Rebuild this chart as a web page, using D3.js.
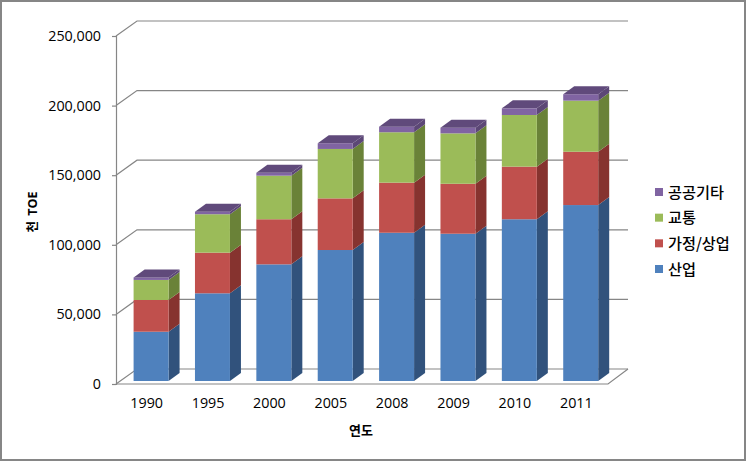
<!DOCTYPE html>
<html><head><meta charset="utf-8">
<script src="https://cdnjs.cloudflare.com/ajax/libs/d3/7.8.5/d3.min.js"></script>
<style>html,body{margin:0;padding:0;background:#fff}svg{display:block}
text{font-family:"Open Sans","Noto Sans CJK KR",sans-serif;fill:#000}</style></head><body>
<svg id="c" width="746" height="461"></svg>
<script>
const years = ["1990","1995","2000","2005","2008","2009","2010","2011"];
const industry = [35400,63000,83800,94100,106500,105800,116200,126400];
const household = [22800,29200,32400,37100,36000,35900,37800,38300];
const transport = [14400,27600,31300,35500,36200,36200,37100,36700];
const publicEtc = [1800,1800,2100,4100,4000,4100,4800,4600];
const seriesNames = ["산업","가정/상업","교통","공공기타"];
const seriesValues = [industry,household,transport,publicEtc];
const front = ["#4F81BD","#C0504D","#9BBB59","#8064A2"];
const side = ["#31527C","#86332F","#6A8238","#5C4776"];
const topFace = "#604A7B";
const yTicks = [0,50000,100000,150000,200000,250000];

const W=746,H=461,depthX=21,depthY=15,barDX=11,barDY=8,axisColor="#868686";
const svg=d3.select("#c");
svg.append("rect").attr("x",1).attr("y",1).attr("width",W-2).attr("height",H-2)
  .attr("fill","#fff").attr("stroke",axisColor).attr("stroke-width",2);

const y=d3.scaleLinear().domain([0,250000]).range([384,36]);
const x=d3.scaleBand().domain(years).range([116,607]).paddingInner(0.43).paddingOuter(0.215);
const fmt=d3.format(",");

// walls and floor
const grid=svg.append("g").attr("fill","none").attr("stroke",axisColor).attr("stroke-width",1.2);
yTicks.forEach(t=>{
  const yy=y(t);
  grid.append("path").attr("d",`M${x.range()[0]},${yy}L${x.range()[0]+depthX},${yy-depthY}L${x.range()[1]+depthX},${yy-depthY}`);
});
grid.append("path").attr("d",`M${x.range()[0]},${y(0)}L${x.range()[1]+1},${y(0)}L${x.range()[1]+depthX},${y(0)-depthY}`);

// y axis
const yAxis=d3.axisLeft(y).tickValues(yTicks).tickFormat(fmt).tickSize(4).tickPadding(11);
const ga=svg.append("g").attr("transform",`translate(${x.range()[0]},0)`).call(yAxis);
ga.selectAll("path,line").attr("stroke",axisColor).attr("stroke-width",1.2);
ga.selectAll("text").attr("font-size",14.3).style("font-family",'"Open Sans",sans-serif');

// x axis labels
const xAxis=d3.axisBottom(x).tickSize(0).tickPadding(14);
const gx=svg.append("g").attr("transform",`translate(0,${y(0)})`).call(xAxis);
gx.select("path").remove();
gx.selectAll("text").attr("font-size",14.3).style("font-family",'"Open Sans",sans-serif');

// bars
const shiftX=4.4,shiftY=-3;
const bars=svg.append("g");
years.forEach((yr,i)=>{
  let cum=0;
  const bx=x(yr)+shiftX,bw=x.bandwidth();
  seriesValues.forEach((vals,s)=>{
    const y0=y(cum)+shiftY,y1=y(cum+vals[i])+shiftY;
    cum+=vals[i];
    bars.append("polygon").attr("fill",side[s]).attr("points",
      [[bx+bw,y1],[bx+bw+barDX,y1-barDY],[bx+bw+barDX,y0-barDY],[bx+bw,y0]].join(" "));
    bars.append("rect").attr("x",bx).attr("y",y1).attr("width",bw).attr("height",y0-y1).attr("fill",front[s]);
    if(s===seriesValues.length-1){
      bars.append("polygon").attr("fill",topFace).attr("points",
        [[bx,y1],[bx+barDX,y1-barDY],[bx+bw+barDX,y1-barDY],[bx+bw,y1]].join(" "));
    }
  });
});

// titles
svg.append("text").attr("transform","translate(37,212) rotate(-90)").attr("text-anchor","middle")
  .attr("font-size",12.5).attr("font-weight",700).attr("word-spacing",2).text("천 TOE");
svg.append("text").attr("x",361).attr("y",435).attr("text-anchor","middle")
  .attr("font-size",13).attr("font-weight",700).text("연도");

// legend
const legY=d3.scalePoint().domain(seriesNames).range([269,192]);
seriesNames.forEach((n,s)=>{
  svg.append("rect").attr("x",655).attr("y",legY(n)-4).attr("width",8).attr("height",8).attr("fill",front[s]);
  svg.append("text").attr("x",668).attr("y",legY(n)+5.5).attr("font-size",15.2).attr("font-weight",500)
    .style("font-family",'"Noto Sans CJK KR",sans-serif').text(n);
});
</script></body></html>
